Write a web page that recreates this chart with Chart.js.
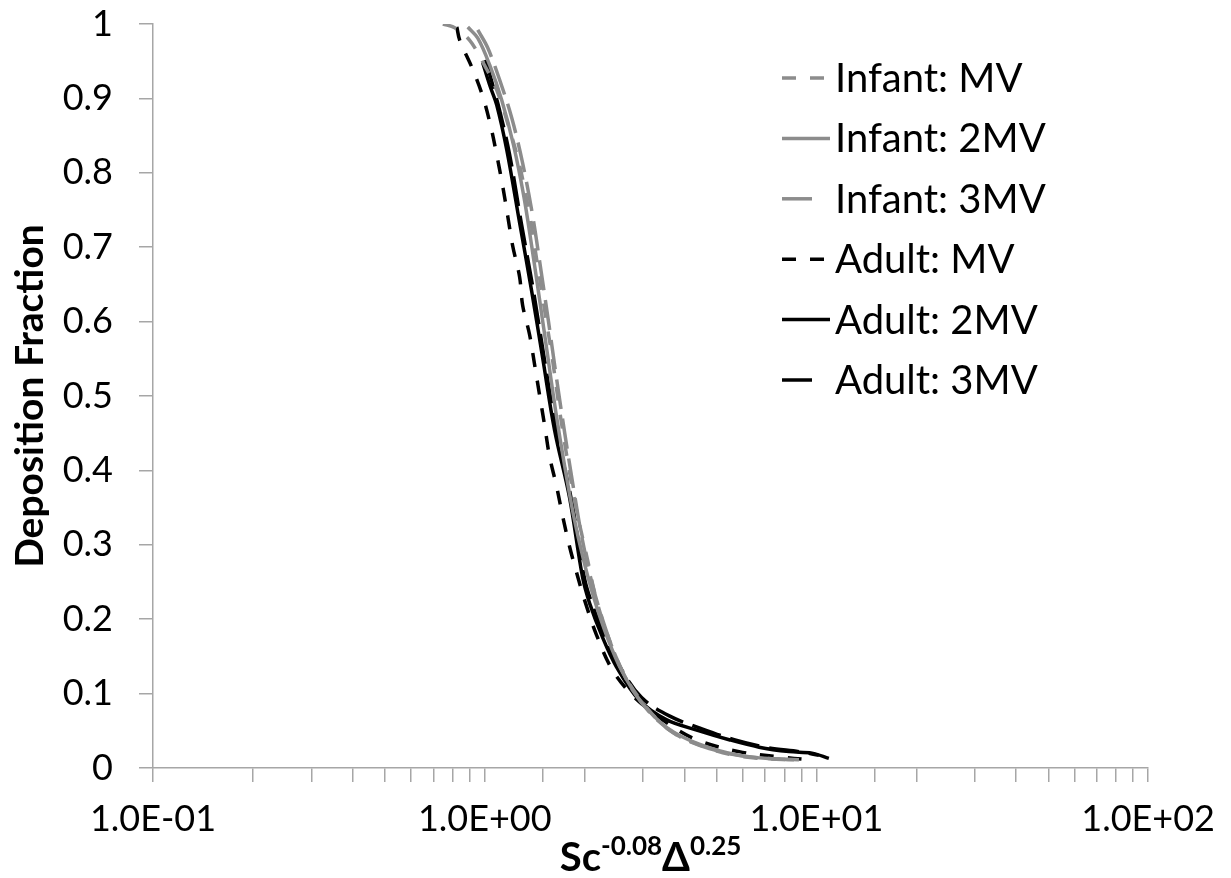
<!DOCTYPE html>
<html>
<head>
<meta charset="utf-8">
<script src="https://cdn.jsdelivr.net/npm/chart.js@4.4.1/dist/chart.umd.min.js"></script>
<style>
  body { margin: 0; background: #fff; }
  #caixa { width: 1231px; height: 878px; position: relative; }
</style>
</head>
<body>
<div id="caixa"><canvas id="grafico"></canvas></div>
<script>
// valores (x em escala log)
const xInfantMV = [0.748, 0.812, 0.901, 0.986, 1.087, 1.189, 1.274, 1.366, 1.443, 1.515, 1.602, 1.681, 1.776, 1.891, 2.041, 2.172, 2.376, 2.637, 3.029, 3.601, 4.432, 5.847, 8.267]
const yInfantMV = [1.000, 0.995, 0.978, 0.949, 0.911, 0.858, 0.810, 0.743, 0.676, 0.616, 0.548, 0.481, 0.414, 0.347, 0.280, 0.226, 0.172, 0.125, 0.085, 0.051, 0.031, 0.016, 0.011]

const xInfant2MV = [0.889, 0.953, 1.035, 1.125, 1.222, 1.310, 1.384, 1.464, 1.547, 1.635, 1.740, 1.852, 1.985, 2.142, 2.344, 2.600, 2.987, 3.551, 4.432, 5.847, 7.714, 8.858]
const yInfant2MV = [0.996, 0.981, 0.945, 0.898, 0.837, 0.770, 0.703, 0.629, 0.555, 0.481, 0.407, 0.340, 0.280, 0.226, 0.175, 0.129, 0.087, 0.054, 0.032, 0.017, 0.012, 0.011]

const xInfant3MV = [0.953, 1.021, 1.109, 1.206, 1.301, 1.394, 1.474, 1.558, 1.646, 1.740, 1.852, 1.971, 2.113, 2.280, 2.495, 2.787, 3.201, 3.806, 4.751, 6.266, 8.556]
const yInfant3MV = [0.992, 0.968, 0.925, 0.874, 0.813, 0.743, 0.672, 0.599, 0.524, 0.452, 0.376, 0.306, 0.246, 0.196, 0.148, 0.105, 0.071, 0.044, 0.026, 0.015, 0.011]

const xAdultMV = [0.824, 0.841, 0.914, 0.986, 1.042, 1.087, 1.133, 1.173, 1.214, 1.274, 1.301, 1.366, 1.414, 1.464, 1.515, 1.568, 1.646, 1.717, 1.801, 1.891, 1.999, 2.172, 2.410, 2.730, 3.135, 3.859, 4.525, 5.847, 7.714, 9.493]
const yAdultMV = [0.996, 0.978, 0.942, 0.903, 0.863, 0.824, 0.782, 0.742, 0.702, 0.660, 0.622, 0.582, 0.542, 0.501, 0.461, 0.419, 0.379, 0.339, 0.298, 0.263, 0.226, 0.179, 0.134, 0.102, 0.078, 0.050, 0.035, 0.022, 0.015, 0.011]

const xAdult2MV = [0.986, 1.035, 1.087, 1.165, 1.274, 1.384, 1.494, 1.624, 1.801, 1.971, 2.069, 2.264, 2.495, 2.925, 3.527, 4.432, 5.456, 6.716, 8.267, 9.694, 10.90]
const yAdult2MV = [0.948, 0.918, 0.891, 0.831, 0.733, 0.642, 0.552, 0.454, 0.364, 0.257, 0.222, 0.176, 0.136, 0.091, 0.065, 0.050, 0.038, 0.028, 0.022, 0.020, 0.013]

const xAdult3MV = [1.007, 1.057, 1.109, 1.189, 1.292, 1.404, 1.515, 1.646, 1.826, 1.999, 2.113, 2.312, 2.547, 2.966, 3.601, 4.432, 5.648, 7.195, 8.858, 10.17]
const yAdult3MV = [0.952, 0.918, 0.884, 0.824, 0.730, 0.640, 0.548, 0.452, 0.360, 0.255, 0.219, 0.175, 0.137, 0.095, 0.070, 0.054, 0.038, 0.027, 0.022, 0.017]

const nomesSeries = ['Infant: MV', 'Infant: 2MV', 'Infant: 3MV', 'Adult: MV', 'Adult: 2MV', 'Adult: 3MV']
const xMin = 0.1, xMax = 100
const yMin = 0, yMax = 1, yPasso = 0.1

const fonte = 'Lato, "Open Sans", sans-serif'
const cinza = '#8c8c8c'
const corEixo = '#a6a6a6'
const tracoCurto = [14, 14]
const tracoLongo = [30, 10]

function pontos(xs, ys) {
  return xs.map(function(x, i) { return { x: x, y: ys[i] } })
}

function serie(nome, xs, ys, cor, traco, amostra) {
  return {
    label: nome,
    data: pontos(xs, ys),
    borderColor: cor,
    borderWidth: 3.5,
    borderDash: traco,
    pointRadius: 0,
    fill: false,
    tension: 0.35,
    amostra: amostra
  }
}

// legenda desenhada dentro da area do grafico
const legendaPlugin = {
  id: 'legenda',
  afterDatasetsDraw(chart) {
    const ctx = chart.ctx
    ctx.save()
    chart.data.datasets.forEach(function(ds, i) {
      const y = 78 + i * 60.4
      ctx.strokeStyle = ds.borderColor
      ctx.lineWidth = ds.borderWidth
      ctx.setLineDash(ds.borderDash)
      ctx.beginPath()
      ctx.moveTo(782, y)
      ctx.lineTo(782 + ds.amostra, y)
      ctx.stroke()
      ctx.setLineDash([])
      ctx.fillStyle = '#000'
      ctx.font = '40px ' + fonte
      ctx.textBaseline = 'middle'
      ctx.fillText(ds.label, 835, y + 1)
    })
    ctx.restore()
  }
}

// titulos dos eixos (x tem expoentes)
const titulosPlugin = {
  id: 'titulos',
  afterDraw(chart) {
    const ctx = chart.ctx
    const area = chart.chartArea
    ctx.save()
    ctx.fillStyle = '#000'
    ctx.textBaseline = 'alphabetic'

    const partes = [
      { t: 'Sc', f: 'bold 40px ' + fonte, dy: 0 },
      { t: '-0.08', f: 'bold 26px ' + fonte, dy: -16 },
      { t: 'Δ', f: 'bold 40px ' + fonte, dy: 0 },
      { t: '0.25', f: 'bold 26px ' + fonte, dy: -16 }
    ]
    let total = 0
    partes.forEach(function(p) { ctx.font = p.f; total += ctx.measureText(p.t).width })
    let x = (area.left + area.right) / 2 - total / 2
    const base = 871
    partes.forEach(function(p) {
      ctx.font = p.f
      ctx.fillText(p.t, x, base + p.dy)
      x += ctx.measureText(p.t).width
    })

    ctx.translate(30, (area.top + area.bottom) / 2)
    ctx.rotate(-Math.PI / 2)
    ctx.font = 'bold 39px ' + fonte
    ctx.textAlign = 'center'
    ctx.textBaseline = 'middle'
    ctx.fillText('Deposition Fraction', 0, 0)
    ctx.restore()
  }
}

function rotuloX(valor) {
  const e = Math.log10(valor)
  if (Math.abs(e - Math.round(e)) > 1e-6) return ''
  const n = Math.round(e)
  return '1.0E' + (n < 0 ? '-' : '+') + String(Math.abs(n)).padStart(2, '0')
}

function rotuloY(valor) {
  const v = Math.round(valor * 10) / 10
  if (v === 0) return '0'
  if (v === 1) return '1'
  return v.toFixed(1)
}

new Chart(document.getElementById('grafico'), {
  type: 'line',
  data: {
    datasets: [
      serie(nomesSeries[0], xInfantMV, yInfantMV, cinza, tracoCurto, 46),
      serie(nomesSeries[1], xInfant2MV, yInfant2MV, cinza, [], 48),
      serie(nomesSeries[2], xInfant3MV, yInfant3MV, cinza, tracoLongo, 33),
      serie(nomesSeries[3], xAdultMV, yAdultMV, '#000', tracoCurto, 46),
      serie(nomesSeries[4], xAdult2MV, yAdult2MV, '#000', [], 48),
      serie(nomesSeries[5], xAdult3MV, yAdult3MV, '#000', tracoLongo, 33)
    ]
  },
  options: {
    responsive: true,
    maintainAspectRatio: false,
    animation: false,
    layout: { padding: { top: 24, right: 82, left: 0, bottom: 0 } },
    plugins: { legend: { display: false }, tooltip: { enabled: false } },
    scales: {
      x: {
        type: 'logarithmic',
        min: xMin,
        max: xMax,
        afterFit: function(s) { s.height = 110 },
        border: { display: true, color: corEixo, width: 1.5 },
        grid: { drawOnChartArea: false, drawTicks: true, tickLength: 14, color: corEixo, lineWidth: 1.5 },
        ticks: {
          autoSkip: false,
          maxRotation: 0,
          padding: 16,
          color: '#000',
          font: { family: fonte, size: 36 },
          callback: function(v) { return rotuloX(v) }
        }
      },
      y: {
        min: yMin,
        max: yMax,
        afterFit: function(s) { s.width = 153; s.paddingTop = 0; s.paddingBottom = 0 },
        border: { display: true, color: corEixo, width: 1.5 },
        grid: { drawOnChartArea: false, drawTicks: true, tickLength: 14, color: corEixo, lineWidth: 1.5 },
        ticks: {
          stepSize: yPasso,
          padding: 26,
          color: '#000',
          font: { family: fonte, size: 36 },
          callback: function(v) { return rotuloY(v) }
        }
      }
    }
  },
  plugins: [legendaPlugin, titulosPlugin]
})
</script>
</body>
</html>
